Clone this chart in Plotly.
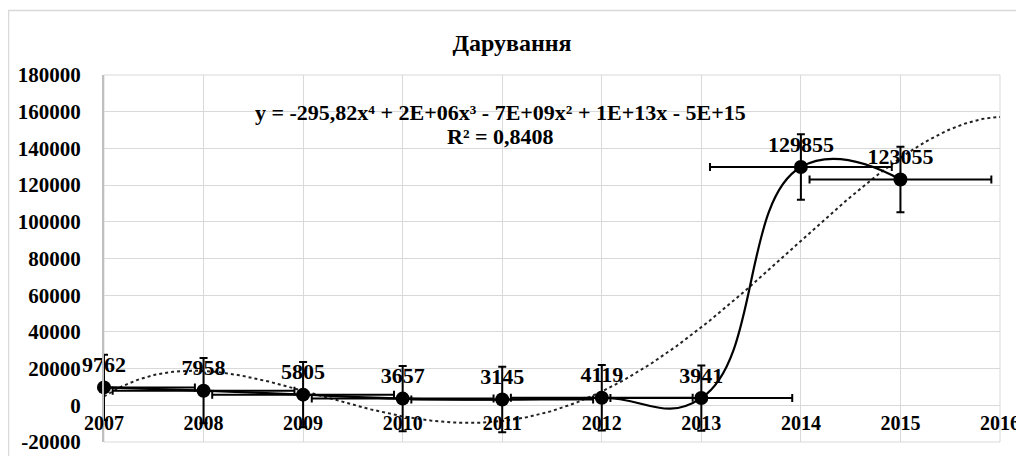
import numpy as np
import plotly.graph_objects as go

# ---- data ----
years = [2007, 2008, 2009, 2010, 2011, 2012, 2013, 2014, 2015]
values = [9762, 7958, 5805, 3657, 3145, 4119, 3941, 129855, 123055]
y_error = 17805      # standard error (vertical bars)
x_error = 0.913      # standard error (horizontal bars)
x_ticks = [2007, 2008, 2009, 2010, 2011, 2012, 2013, 2014, 2015, 2016]
y_ticks = [-20000, 0, 20000, 40000, 60000, 80000, 100000, 120000, 140000, 160000, 180000]
title_text = "Дарування"
equation_text = "y = -295,82x⁴ + 2E+06x³ - 7E+09x² + 1E+13x - 5E+15"
r2_text = "R² = 0,8408"
trend_end = 2016

FONT = "Liberation Serif"
GRID = "#d9d9d9"

# polynomial (degree 4) trendline fitted to the data, forward-forecast to 2016
xs = np.array(years, dtype=float)
coef = np.polyfit(xs - 2011, np.array(values, dtype=float), 4)
xt = np.linspace(years[0], trend_end, 300)
yt = np.polyval(coef, xt - 2011)

fig = go.Figure()

fig.add_trace(go.Scatter(
    x=xt, y=yt, mode="lines",
    line=dict(color="#222222", width=2, dash="dot"),
    hoverinfo="skip", showlegend=False, cliponaxis=False,
))

fig.add_trace(go.Scatter(
    x=years, y=values,
    mode="lines+markers+text",
    line=dict(color="black", width=2.2, shape="spline", smoothing=1.3),
    marker=dict(color="black", size=14),
    text=[str(v) for v in values],
    textposition="top center",
    textfont=dict(family=FONT, size=22, color="black", weight="bold"),
    error_y=dict(type="constant", value=y_error, color="black", thickness=2, width=4),
    error_x=dict(type="constant", value=x_error, color="black", thickness=2, width=4),
    showlegend=False, cliponaxis=False,
))

# page body adds an 8px offset; figure is sized to fit the 1024x456 window
OFF = 8
W, H = 1024 - OFF, 456 - OFF
L = 104 - OFF
T = 75 - OFF
R = W - (1000 - OFF)
B = H - (442 - OFF)
pw = W - L - R
ph = H - T - B

def px_x(p):   # reference-picture pixel -> paper fraction
    return (p - OFF - L) / pw

def px_y(p):
    return (H - B - (p - OFF)) / ph

fig.update_layout(
    width=W, height=H,
    margin=dict(l=L, r=R, t=T, b=B, autoexpand=False),
    paper_bgcolor="white", plot_bgcolor="white",
    title=dict(text=title_text, x=(512 - OFF) / W, xref="container", xanchor="center",
               y=1 - (43 - OFF) / H, yref="container", yanchor="middle",
               font=dict(family=FONT, size=24, color="black", weight="bold")),
    xaxis=dict(range=[x_ticks[0], x_ticks[-1]], tickvals=x_ticks,
               ticktext=[str(t) for t in x_ticks], automargin=False,
               showgrid=True, gridcolor=GRID, gridwidth=1,
               zeroline=False, showline=False, ticks="", ticklabelstandoff=4,
               anchor="free", position=(0 - y_ticks[0]) / (y_ticks[-1] - y_ticks[0]),
               tickfont=dict(family=FONT, size=20, color="black", weight="bold")),
    yaxis=dict(range=[y_ticks[0], y_ticks[-1]], tickvals=y_ticks,
               ticktext=[str(t) for t in y_ticks], automargin=False,
               showgrid=True, gridcolor=GRID, gridwidth=1,
               zeroline=False, showline=True, linecolor="#bfbfbf", linewidth=2,
               ticks="", ticklabelstandoff=17,
               tickfont=dict(family=FONT, size=21, color="black", weight="bold")),
    annotations=[
        dict(text="<b>" + equation_text + "</b>",
             xref="paper", yref="paper", x=px_x(500), y=px_y(112),
             xanchor="center", yanchor="middle", showarrow=False,
             font=dict(family=FONT, size=22, color="black")),
        dict(text="<b>" + r2_text + "</b>",
             xref="paper", yref="paper", x=px_x(500), y=px_y(136),
             xanchor="center", yanchor="middle", showarrow=False,
             font=dict(family=FONT, size=22, color="black")),
    ],
    shapes=[
        dict(type="rect", xref="paper", yref="paper", x0=0, x1=1, y0=0, y1=1,
             line=dict(color=GRID, width=1), layer="below"),
        dict(type="rect", xref="paper", yref="paper",
             x0=px_x(8.5), x1=px_x(1020), y0=px_y(470), y1=px_y(10.5),
             line=dict(color=GRID, width=1.5), layer="below"),
    ],
)

fig.write_html("out.html")
